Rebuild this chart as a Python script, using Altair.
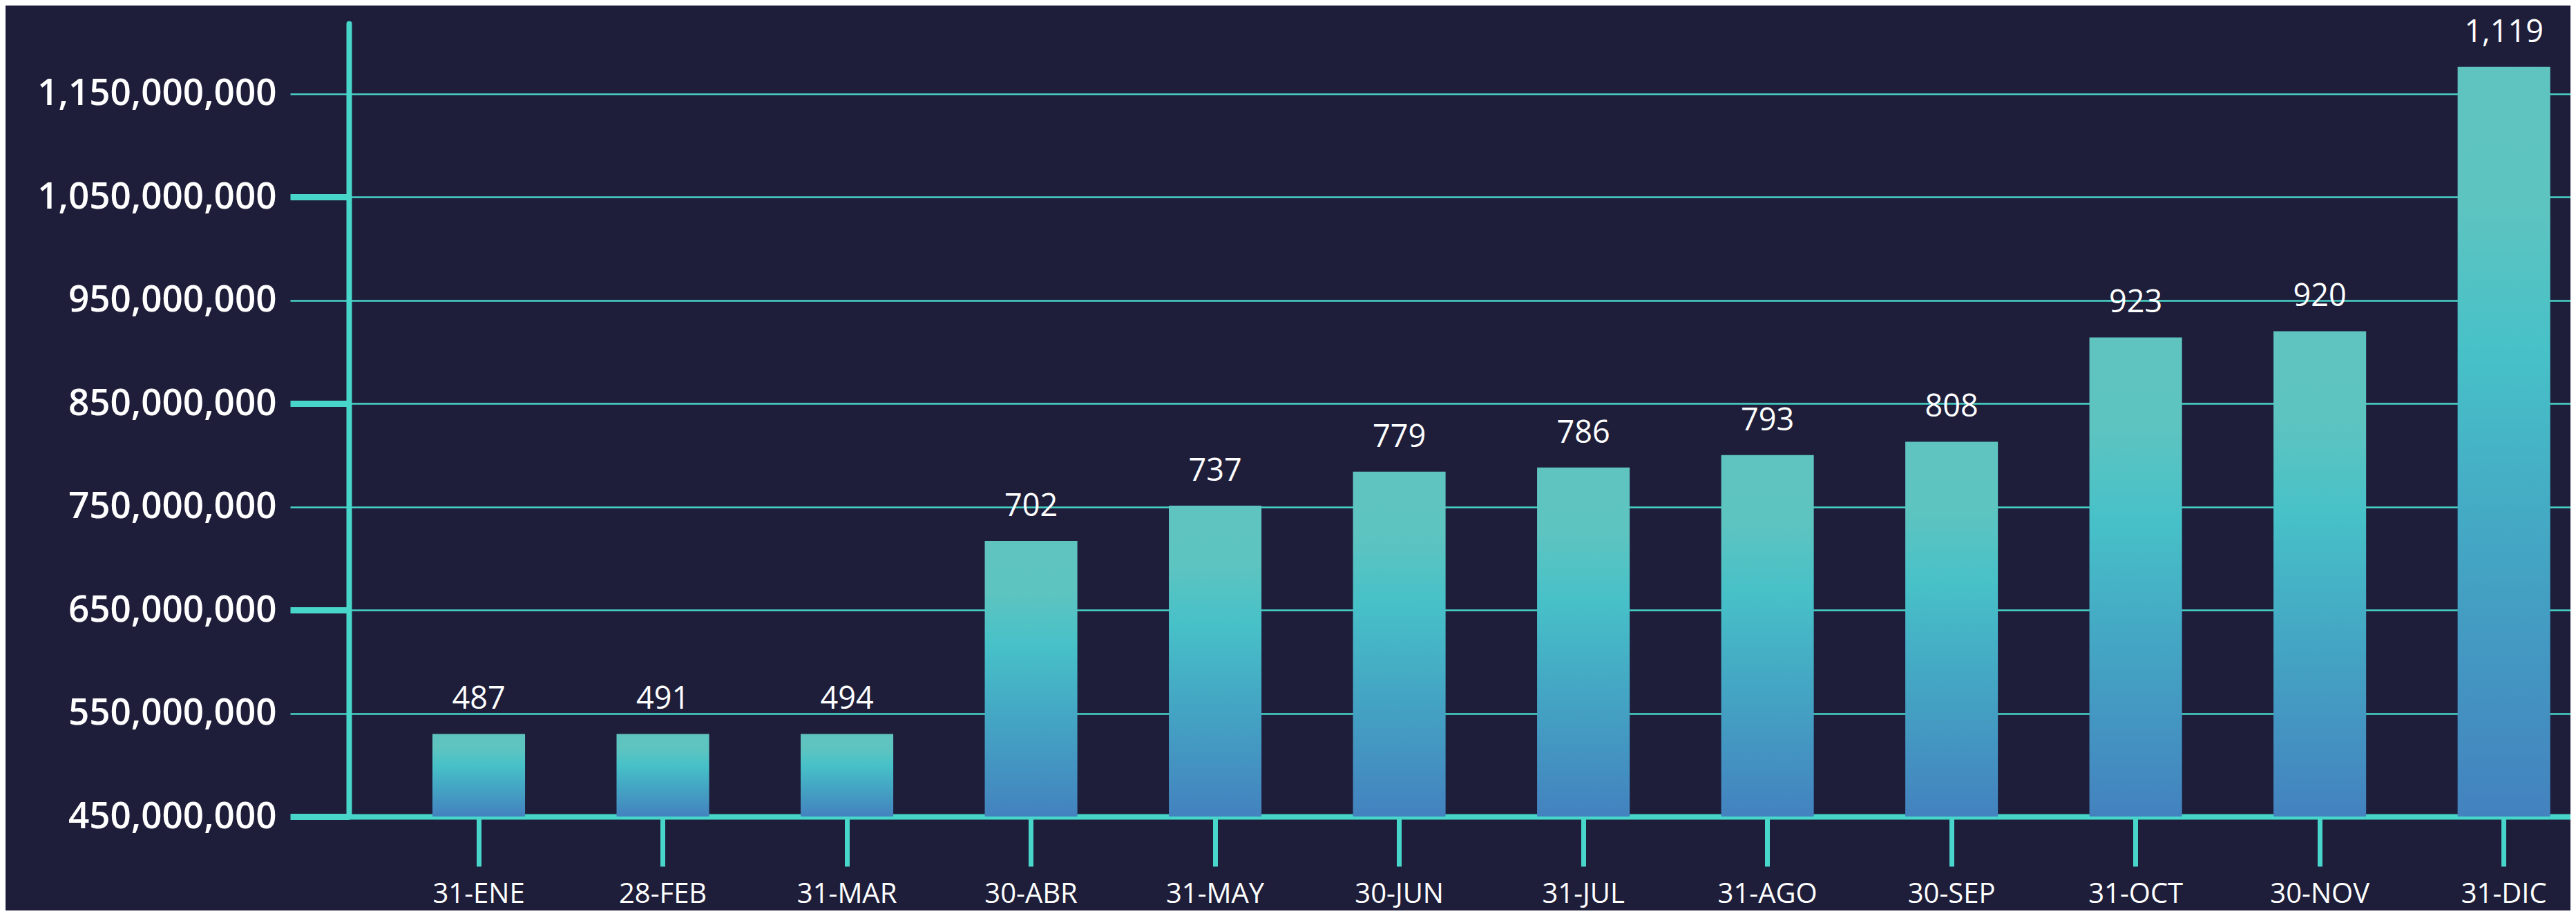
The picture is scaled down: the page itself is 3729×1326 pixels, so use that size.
import altair as alt
import pandas as pd

# ---- data ----
FECHAS = ["31-ENE", "28-FEB", "31-MAR", "30-ABR", "31-MAY", "30-JUN",
          "31-JUL", "31-AGO", "30-SEP", "31-OCT", "30-NOV", "31-DIC"]
VALORES = [530000000, 530000000, 530000000, 717000000, 751000000, 784000000,
           788000000, 800000000, 813000000, 914000000, 920000000, 1176000000]
ETIQUETAS = ["487", "491", "494", "702", "737", "779",
             "786", "793", "808", "923", "920", "1,119"]
Y_TICKS = [450000000, 550000000, 650000000, 750000000,
           850000000, 950000000, 1050000000, 1150000000]
Y_MIN, Y_MAX = 450000000, 1218000000

df = pd.DataFrame({"fecha": FECHAS, "valor": VALORES, "etiqueta": ETIQUETAS})

BG = "#1e1e3a"
TEAL = "#48d5ca"
FONT = "Open Sans"

gradient = alt.Gradient(
    gradient="linear", x1=0, y1=0, x2=0, y2=1,
    stops=[
        alt.GradientStop(offset=0.0, color="#5fc4bf"),
        alt.GradientStop(offset=0.18, color="#5ec4c0"),
        alt.GradientStop(offset=0.38, color="#47c1c8"),
        alt.GradientStop(offset=0.62, color="#44a8c4"),
        alt.GradientStop(offset=1.0, color="#4382bf"),
    ],
)

x_enc = alt.X(
    "fecha:N", sort=FECHAS, title=None,
    scale=alt.Scale(paddingInner=0.497, paddingOuter=0.282, align=0.805),
    axis=alt.Axis(
        labelAngle=0, labelColor="white", labelFont=FONT, labelFontSize=40,
        labelPadding=20, domainColor=TEAL, domainWidth=8,
        tickColor=TEAL, tickWidth=7, tickSize=72, grid=False, labelLimit=0,
    ),
)

y_scale = alt.Scale(domain=[Y_MIN, Y_MAX], zero=False, nice=False)

bars = alt.Chart(df).mark_bar(color=gradient).encode(
    x=x_enc,
    y=alt.Y(
        "valor:Q", scale=y_scale, title=None,
        axis=alt.Axis(
            values=Y_TICKS, format=",d", labelColor="white", labelFont=FONT,
            labelFontSize=53, labelFontWeight=600, labelPadding=20, labelLimit=0,
            domainColor=TEAL, domainWidth=8, domainCap="round",
            tickColor=TEAL, tickSize=85,
            tickWidth={"condition": {"test": "datum.value % 200000000 === 50000000", "value": 9}, "value": 2.5},
            grid=True, gridColor=TEAL, gridWidth=2.5,
        ),
    ),
    y2=alt.datum(Y_MIN),
)

labels = alt.Chart(df).mark_text(
    color="white", font=FONT, fontSize=45, baseline="middle", dy=-50
).encode(
    x=alt.X("fecha:N", sort=FECHAS),
    y=alt.Y("valor:Q", scale=y_scale),
    text="etiqueta:N",
)

chart = (bars + labels).properties(
    width=3216, height=1148,
    background=BG,
    padding={"left": 497, "top": 26, "right": 0, "bottom": 136},
    autosize=alt.AutoSizeParams(type="none"),
).configure_view(stroke=None)

chart.save("out.html", embed_options={"renderer": "svg", "actions": False})
